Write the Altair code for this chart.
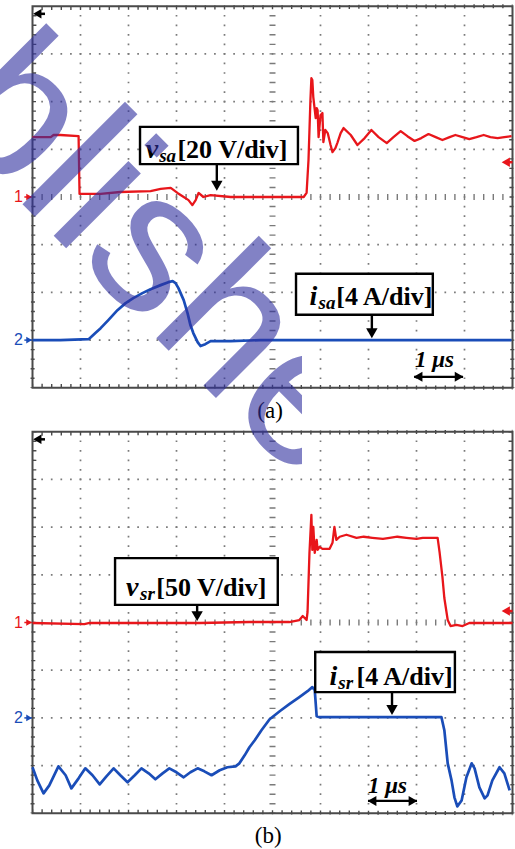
import altair as alt
import pandas as pd

# ---------------- values ----------------
# time in microseconds (1 us/div, 10 div per screen)
# Panel (a): v_sa [V] (20 V/div), i_sa [A] (4 A/div)
va_t = [0.00, 0.38, 0.44, 0.58, 0.96, 0.98, 1.42, 1.83, 2.46, 2.67, 2.88, 3.02, 3.15, 3.25,
        3.33, 3.40, 3.46, 3.56, 3.71, 4.13, 4.75, 5.38, 5.65, 5.71, 5.75, 5.79, 5.81, 5.83,
        5.85, 5.90, 5.92, 5.94, 5.96, 6.00, 6.04, 6.06, 6.10, 6.15, 6.21, 6.25, 6.31, 6.35,
        6.42, 6.48, 6.63, 6.77, 6.92, 7.06, 7.21, 7.38, 7.52, 7.67, 7.81, 7.96, 8.10, 8.25,
        8.40, 8.54, 8.69, 8.81, 8.96, 9.10, 9.25, 9.40, 9.54, 9.69, 9.83, 9.98]
va_v = [25.1, 25.1, 26.0, 26.0, 25.5, 1.3, 1.3, 2.1, 2.5, 3.4, 3.8, 1.7, 0.0, -1.3,
        -3.4, -1.3, 1.7, 0.0, 0.8, 0.0, 0.0, 0.0, 0.0, 1.7, 15.5, 40.6, 49.8, 49.0,
        41.9, 33.1, 37.3, 36.4, 25.1, 34.3, 35.2, 23.0, 28.1, 26.8, 21.8, 18.8, 20.5, 22.6,
        26.8, 28.9, 26.0, 21.8, 24.7, 28.1, 25.1, 22.6, 25.1, 27.6, 25.5, 23.5, 24.7, 26.4,
        25.1, 23.9, 25.1, 26.0, 25.1, 24.3, 25.1, 26.0, 25.1, 24.7, 25.1, 25.5]
ia_t = [0.00, 0.58, 1.17, 1.31, 1.42, 1.58, 1.77, 1.94, 2.10, 2.29, 2.46, 2.67, 2.83, 2.92,
        2.98, 3.04, 3.15, 3.23, 3.29, 3.35, 3.44, 3.50, 3.60, 3.71, 4.13, 4.75, 5.58, 6.42,
        7.67, 8.92, 9.98]
ia_i = [0.00, 0.00, 0.08, 0.59, 1.00, 1.68, 2.51, 3.10, 3.52, 3.94, 4.27, 4.61, 4.86, 4.94,
        4.78, 4.36, 3.35, 2.26, 1.26, 0.59, -0.17, -0.50, -0.34, -0.08, -0.08, 0.00, 0.00, 0.00,
        0.00, 0.00, 0.00]
# Panel (b): v_sr [V] (50 V/div), i_sr [A] (4 A/div)
vb_t = [0.00, 1.08, 1.19, 2.44, 3.48, 4.52, 5.35, 5.56, 5.63, 5.71, 5.73, 5.77, 5.81, 5.83,
        5.85, 5.88, 5.92, 5.94, 5.98, 6.04, 6.19, 6.25, 6.29, 6.33, 6.40, 6.54, 6.75, 6.90,
        7.08, 7.30, 7.44, 7.60, 7.79, 8.00, 8.13, 8.44, 8.48, 8.54, 8.58, 8.65, 8.71, 8.83,
        8.96, 9.10, 9.52, 10.00]
vb_v = [-0.5, -1.6, -0.5, -0.5, -0.5, 0.5, 0.5, 2.6, 6.8, 2.6, 11.0, 73.0, 112.9, 76.1,
        100.3, 73.0, 86.7, 76.1, 79.3, 77.2, 77.2, 83.5, 100.3, 86.7, 89.9, 92.0, 88.8, 89.9,
        88.8, 87.7, 88.8, 89.9, 88.8, 87.7, 88.8, 88.8, 74.1, 47.8, 25.7, 2.6, -3.7, -2.6,
        -3.7, -0.5, -0.5, -0.5]
ib_t = [0.00, 0.10, 0.23, 0.35, 0.54, 0.69, 0.81, 0.96, 1.10, 1.25, 1.40, 1.54, 1.69, 1.83,
        1.98, 2.13, 2.27, 2.42, 2.56, 2.71, 2.85, 3.00, 3.15, 3.29, 3.44, 3.58, 3.73, 3.90,
        4.06, 4.23, 4.31, 4.42, 4.52, 4.63, 4.77, 4.94, 5.15, 5.35, 5.56, 5.73, 5.83, 5.88,
        5.92, 5.98, 6.81, 7.65, 8.52, 8.58, 8.65, 8.73, 8.79, 8.85, 8.94, 9.04, 9.15, 9.21,
        9.31, 9.42, 9.48, 9.58, 9.73, 9.83, 9.94]
ib_i = [-4.14, -5.24, -6.33, -5.66, -4.06, -4.81, -5.91, -5.07, -4.23, -4.81, -5.57, -4.90, -4.23, -4.81,
        -5.40, -4.81, -4.23, -4.65, -5.15, -4.65, -4.23, -4.56, -4.98, -4.56, -4.23, -4.48, -4.81, -4.39,
        -4.14, -4.06, -3.81, -3.14, -2.46, -1.87, -1.03, -0.11, 0.56, 1.15, 1.74, 2.24, 2.58, 2.33,
        0.14, 0.06, 0.06, 0.06, 0.06, -1.03, -3.81, -5.24, -6.66, -7.42, -6.92, -4.98, -3.81, -4.23,
        -5.82, -6.75, -6.50, -5.24, -4.14, -4.65, -6.08]

# channel settings: (volts or amps per division, marker position in div)
GAIN = {"va": 20.0, "ia": 4.0, "vb": 50.0, "ib": 4.0}
MARK = {"va": 0.0, "ia": -3.0, "vb": 0.0, "ib": -2.0}

# ---------------- layout ----------------
W, H = 515, 849
X0_PX, XPD = 32.5, 48.0          # x pixel of t=0, pixels per division
YPD = 47.7                        # pixels per vertical division
A_CENTER, B_CENTER = 197.0, 622.5
X_DOMAIN = [-X0_PX / XPD, (W - X0_PX) / XPD]
Y_DOMAIN = [(A_CENTER - H) / YPD, A_CENTER / YPD]
SHIFT = {"a": 0.0, "b": (B_CENTER - A_CENTER) / YPD}

XS = alt.Scale(domain=X_DOMAIN, nice=False, zero=False)
YS = alt.Scale(domain=Y_DOMAIN, nice=False, zero=False)
RED, BLUE = "#E8161B", "#1A4DB8"
FRAME, DOT = "#4a4a4a", "#7a7a7a"
SERIF = "Liberation Serif"


def gy(p, v):
    return v - SHIFT[p]


def X():
    return alt.X("t:Q", scale=XS, axis=None)


def Y():
    return alt.Y("y:Q", scale=YS, axis=None)


def rules(rows, **mk):
    return alt.Chart(pd.DataFrame(rows)).mark_rule(**mk).encode(
        x=X(), x2="t2:Q", y=Y(), y2="y2:Q")


def points(rows, **mk):
    return alt.Chart(pd.DataFrame(rows)).mark_point(**mk).encode(x=X(), y=Y())


def texts(rows, **mk):
    return alt.Chart(pd.DataFrame(rows)).mark_text(**mk).encode(x=X(), y=Y(), text="text:N")


def trace(ts, vals, key, p, color, width):
    df = pd.DataFrame({"i": range(len(ts)), "t": ts,
                       "y": [gy(p, v / GAIN[key] + MARK[key]) for v in vals]})
    return alt.Chart(df).mark_line(color=color, strokeWidth=width, strokeJoin="round").encode(
        x=X(), y=Y(), order="i:Q")


assert len(va_t) == len(va_v) and len(ia_t) == len(ia_i)
assert len(vb_t) == len(vb_v) and len(ib_t) == len(ib_i)

layers = []
vgrid, hgrid, hc, vc, top, bot, lft, rgt, frame = [], [], [], [], [], [], [], [], []
for p in ("a", "b"):
    for k in [1, 2, 3, 4, 6, 7, 8, 9]:
        vgrid.append(dict(t=k, t2=k, y=gy(p, 4), y2=gy(p, -4)))
    for k in [-3, -2, -1, 1, 2, 3]:
        hgrid.append(dict(t=0, t2=10, y=gy(p, k), y2=gy(p, k)))
    hc.append(dict(t=0, t2=10, y=gy(p, 0), y2=gy(p, 0)))
    vc.append(dict(t=5, t2=5, y=gy(p, 4), y2=gy(p, -4)))
    top.append(dict(t=0, t2=10, y=gy(p, 4), y2=gy(p, 4)))
    bot.append(dict(t=0, t2=10, y=gy(p, -4), y2=gy(p, -4)))
    lft.append(dict(t=0, t2=0, y=gy(p, 4), y2=gy(p, -4)))
    rgt.append(dict(t=10, t2=10, y=gy(p, 4), y2=gy(p, -4)))
    frame.append(dict(t=0, t2=10, y=gy(p, -4), y2=gy(p, 4)))

layers.append(rules(vgrid, color=DOT, strokeWidth=1.7, strokeDash=[1.7, 7.84], strokeDashOffset=0.85))
layers.append(rules(hgrid, color=DOT, strokeWidth=1.7, strokeDash=[1.7, 7.9], strokeDashOffset=0.85))
layers.append(rules(hc, color=DOT, strokeWidth=6, strokeDash=[1.4, 8.2], strokeDashOffset=0.7))
layers.append(rules(vc, color=DOT, strokeWidth=6, strokeDash=[1.4, 8.14], strokeDashOffset=0.7))
layers.append(rules(top, color=FRAME, strokeWidth=4, strokeDash=[1.4, 8.2], strokeDashOffset=0.7, yOffset=2))
layers.append(rules(bot, color=FRAME, strokeWidth=4, strokeDash=[1.4, 8.2], strokeDashOffset=0.7, yOffset=-2))
layers.append(rules(lft, color=FRAME, strokeWidth=4, strokeDash=[1.4, 8.14], strokeDashOffset=0.7, xOffset=2))
layers.append(rules(rgt, color=FRAME, strokeWidth=4, strokeDash=[1.4, 8.14], strokeDashOffset=0.7, xOffset=-2))
layers.append(alt.Chart(pd.DataFrame(frame)).mark_rect(
    fillOpacity=0, stroke=FRAME, strokeWidth=2).encode(x=X(), x2="t2:Q", y=Y(), y2="y2:Q"))

# traces
layers.append(trace(va_t, va_v, "va", "a", RED, 2.3))
layers.append(trace(ia_t, ia_i, "ia", "a", BLUE, 2.7))
layers.append(trace(vb_t, vb_v, "vb", "b", RED, 2.3))
layers.append(trace(ib_t, ib_i, "ib", "b", BLUE, 2.7))

# channel markers on the left, trigger markers
for p, ch, key, col in [("a", "1", "va", RED), ("a", "2", "ia", BLUE),
                        ("b", "1", "vb", RED), ("b", "2", "ib", BLUE)]:
    yy = gy(p, MARK[key])
    layers.append(texts([dict(t=-0.2, y=yy, text=ch)], color=col, fontSize=16,
                        font="Liberation Sans", align="right", baseline="middle"))
    layers.append(rules([dict(t=-0.17, t2=-0.02, y=yy, y2=yy)], color=col, strokeWidth=1.5))
    layers.append(points([dict(t=-0.07, y=yy)], shape="triangle-right", filled=True,
                         size=45, color=col, opacity=1))
for p in ("a", "b"):
    yy = gy(p, 3.84)
    layers.append(rules([dict(t=0.08, t2=0.26, y=yy, y2=yy)], color="black", strokeWidth=2.5))
    layers.append(points([dict(t=0.1, y=yy)], shape="triangle-left", filled=True,
                         size=90, color="black", opacity=1))
for p, lv in [("a", 0.73), ("b", 0.24)]:
    yy = gy(p, lv)
    layers.append(rules([dict(t=9.86, t2=10.0, y=yy, y2=yy)], color=RED, strokeWidth=2.5))
    layers.append(points([dict(t=9.86, y=yy)], shape="triangle-left", filled=True,
                         size=90, color=RED, opacity=1))

# label boxes
boxes = [dict(t=2.24, t2=5.53, y=gy("a", 1.47), y2=gy("a", 0.69)),
         dict(t=5.49, t2=8.34, y=gy("a", -1.61), y2=gy("a", -2.47)),
         dict(t=1.72, t2=5.11, y=gy("b", 1.35), y2=gy("b", 0.37)),
         dict(t=5.89, t2=8.80, y=gy("b", -0.62), y2=gy("b", -1.46))]
layers.append(alt.Chart(pd.DataFrame(boxes)).mark_rect(
    fill="white", stroke="black", strokeWidth=2.4).encode(x=X(), x2="t2:Q", y=Y(), y2="y2:Q"))

main_sym = [dict(t=2.36, y=gy("a", 0.82), text="v"),
            dict(t=5.77, y=gy("a", -2.26), text="i"),
            dict(t=1.95, y=gy("b", 0.56), text="v"),
            dict(t=6.19, y=gy("b", -1.31), text="i")]
subs = [dict(t=2.64, y=gy("a", 0.74), text="sa"),
        dict(t=5.96, y=gy("a", -2.35), text="sa"),
        dict(t=2.24, y=gy("b", 0.48), text="sr"),
        dict(t=6.37, y=gy("b", -1.40), text="sr")]
units = [dict(t=3.02, y=gy("a", 0.82), text="[20 V/div]"),
         dict(t=6.33, y=gy("a", -2.26), text="[4 A/div]"),
         dict(t=2.58, y=gy("b", 0.56), text="[50 V/div]"),
         dict(t=6.75, y=gy("b", -1.31), text="[4 A/div]")]
layers.append(texts(main_sym, font=SERIF, fontSize=28, fontWeight="bold", fontStyle="italic",
                    align="left", baseline="alphabetic", color="black"))
layers.append(texts(subs, font=SERIF, fontSize=19, fontWeight="bold", fontStyle="italic",
                    align="left", baseline="alphabetic", color="black"))
layers.append(texts(units, font=SERIF, fontSize=26, fontWeight="bold",
                    align="left", baseline="alphabetic", color="black"))

# pointer arrows from the boxes
stems = [dict(t=3.84, t2=3.84, y=gy("a", 0.69), y2=gy("a", 0.20)),
         dict(t=7.07, t2=7.07, y=gy("a", -2.47), y2=gy("a", -2.88)),
         dict(t=3.43, t2=3.43, y=gy("b", 0.37), y2=gy("b", 0.10)),
         dict(t=7.49, t2=7.49, y=gy("b", -1.46), y2=gy("b", -1.86))]
layers.append(rules(stems, color="black", strokeWidth=2.4))
heads = [dict(t=3.84, y=gy("a", 0.13)), dict(t=7.07, y=gy("a", -2.96)),
         dict(t=3.43, y=gy("b", 0.03)), dict(t=7.49, y=gy("b", -1.94))]
layers.append(points(heads, shape="triangle-down", filled=True, size=130, color="black",
                     opacity=1, yOffset=-5))

# 1 us time scale markers
us_txt = [dict(t=7.97, y=gy("a", -3.56), text="1 μs"), dict(t=6.99, y=gy("b", -3.57), text="1 μs")]
layers.append(texts(us_txt, font=SERIF, fontSize=23, fontWeight="bold", fontStyle="italic",
                    align="left", baseline="alphabetic", color="black"))
us_rule = [dict(t=7.95, t2=8.97, y=gy("a", -3.77), y2=gy("a", -3.77)),
           dict(t=6.99, t2=8.01, y=gy("b", -3.74), y2=gy("b", -3.74))]
layers.append(rules(us_rule, color="black", strokeWidth=2.4))
layers.append(points([dict(t=r["t"], y=r["y"]) for r in us_rule], shape="triangle-left",
                     filled=True, size=100, color="black", opacity=1, xOffset=4))
layers.append(points([dict(t=r["t2"], y=r["y"]) for r in us_rule], shape="triangle-right",
                     filled=True, size=100, color="black", opacity=1, xOffset=-4))

# sub-figure captions
caps = [dict(t=4.95, y=gy("a", -4.63), text="(a)"), dict(t=4.91, y=gy("b", -4.62), text="(b)")]
layers.append(texts(caps, font=SERIF, fontSize=23, align="center", baseline="alphabetic",
                    color="black"))

# watermark (the reference shows it cut off at a vertical edge near x = 302 px)
WM_CLIP = alt.ExprRef(expr="pathShape('M0,0H302V849H0Z')")
layers.append(texts([dict(t=-5.65, y=5.32, text="Publishe")], font="Liberation Sans",
                    fontSize=200, angle=45, align="left", baseline="alphabetic",
                    color="#3030A0", opacity=0.6, clip=WM_CLIP))

chart = alt.layer(*layers).properties(
    width=W, height=H, padding=0, autosize=alt.AutoSizeParams(type="none")
).configure_view(stroke=None)

chart.save("out.html", embed_options={"renderer": "svg", "actions": False})
